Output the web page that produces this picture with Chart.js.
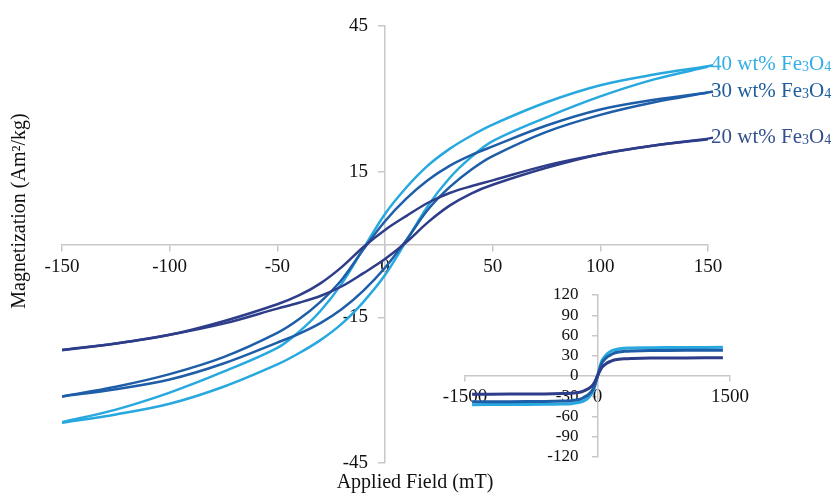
<!DOCTYPE html>
<html>
<head>
<meta charset="utf-8">
<script src="https://cdn.jsdelivr.net/npm/chart.js@4"></script>
<style>
  html, body { margin:0; padding:0; background:#fff; }
  #wrap { position:relative; width:832px; height:493px; overflow:hidden; }
  #main { position:absolute; left:0; top:0; }
  #inset { position:absolute; left:420px; top:280px; }
</style>
</head>
<body>
<div id="wrap">
  <canvas id="main" width="832" height="493"></canvas>
  <canvas id="inset" width="350" height="200"></canvas>
</div>
<script>
// applied field (mT), main plot
const field = [-150, -125, -100, -75, -50, -40, -30, -20, -10, 0, 10, 20, 30, 40, 50, 75, 100, 125, 150];

// magnetization (Am2/kg), descending branch (upper) and ascending branch (lower)
const m20Upper = [-21.7, -20.4, -18.6, -15.8, -12.3, -10.5, -8.0, -4.6, -0.5, 3.0, 5.9, 8.6, 10.6, 12.0, 13.2, 16.3, 18.6, 20.4, 21.8];
const m20Lower = [-21.8, -20.4, -18.6, -16.3, -13.2, -12.0, -10.6, -8.6, -5.9, -3.0, 0.5, 4.6, 8.0, 10.5, 12.3, 15.8, 18.6, 20.4, 21.7];
const m30Upper = [-31.3, -29.3, -26.7, -23.2, -18.2, -15.4, -11.8, -7.2, -1.0, 4.8, 9.5, 13.3, 16.2, 18.4, 20.2, 24.5, 27.8, 29.8, 31.3];
const m30Lower = [-31.3, -29.8, -27.8, -24.5, -20.2, -18.4, -16.2, -13.3, -9.5, -4.8, 1.0, 7.2, 11.8, 15.4, 18.2, 23.2, 26.7, 29.3, 31.3];
const m40Upper = [-36.6, -34.0, -30.5, -26.2, -21.3, -18.0, -13.7, -8.0, -0.8, 6.3, 11.8, 16.3, 19.7, 22.4, 24.7, 29.3, 32.8, 35.0, 36.7];
const m40Lower = [-36.7, -35.0, -32.8, -29.3, -24.7, -22.4, -19.7, -16.3, -11.8, -6.3, 0.8, 8.0, 13.7, 18.0, 21.3, 26.2, 30.5, 34.0, 36.6];

// inset: wide field range
const insetField = [-1420, -1000, -600, -400, -300, -200, -150, -100, -50, 0, 50, 100, 150, 200, 300, 400, 600, 1000, 1420];
const inset20 = [-27.0, -26.8, -26.5, -26.0, -25.5, -24.0, -21.8, -18.6, -12.7, 0, 12.7, 18.6, 21.8, 24.0, 25.5, 26.0, 26.5, 26.8, 27.0];
const inset30 = [-38.2, -38.0, -37.7, -37.2, -36.5, -34.5, -31.3, -27.2, -19.3, 0, 19.3, 27.2, 31.3, 34.5, 36.5, 37.2, 37.7, 38.0, 38.2];
const inset40 = [-42.5, -42.3, -42.0, -41.5, -41.0, -39.0, -36.7, -31.7, -22.8, 0, 22.8, 31.7, 36.7, 39.0, 41.0, 41.5, 42.0, 42.3, 42.5];

const labels = ['20 wt% Fe', '30 wt% Fe', '40 wt% Fe'];
const colors = ['#2e3d8a', '#1e5ea8', '#27a8df'];
const labelColors = ['#34508f', '#1f5d9c', '#33afe3'];

const axisGrey = '#c8c8c8';
const serif = '"Liberation Serif", "Times New Roman", serif';
Chart.defaults.font.family = serif;
Chart.defaults.color = '#111';

function pts(xs, ys) {
  return xs.map((x, i) => ({x: x, y: ys[i]}));
}

function branch(xs, ys, color, w) {
  return {
    data: pts(xs, ys),
    showLine: true,
    borderColor: color,
    borderWidth: w,
    pointRadius: 0,
    tension: 0.35,
    fill: false
  };
}

const mainSets = [
  branch(field, m20Upper, colors[0], 2.5),
  branch(field, m20Lower, colors[0], 2.5),
  branch(field, m30Upper, colors[1], 2.5),
  branch(field, m30Lower, colors[1], 2.5),
  branch(field, m40Upper, colors[2], 2.5),
  branch(field, m40Lower, colors[2], 2.5)
];

const plain = v => String(v);

// y tick labels sit left of the centred axis with a gap
function yLabels(gap, size) {
  return {
    id: 'yLabels',
    beforeDatasetsDraw(chart) {
      const ctx = chart.ctx;
      const ys = chart.scales.y;
      const ax = chart.scales.x.getPixelForValue(0);
      ctx.save();
      ctx.fillStyle = '#111';
      ctx.font = size + 'px ' + serif;
      ctx.textAlign = 'right';
      ctx.textBaseline = 'middle';
      ys.ticks.forEach(t => {
        ctx.fillText(String(t.value), ax - gap, ys.getPixelForValue(t.value));
      });
      ctx.restore();
    }
  };
}

// axis titles and end labels
const textPlugin = {
  id: 'textPlugin',
  afterDatasetsDraw(chart) {
    const ctx = chart.ctx;
    const xs = chart.scales.x, ys = chart.scales.y;
    ctx.save();
    ctx.fillStyle = '#111';
    ctx.font = '20px ' + serif;
    ctx.textAlign = 'center';
    ctx.textBaseline = 'middle';
    ctx.fillText('Applied Field (mT)', 415, 483);
    ctx.save();
    ctx.translate(20, 211);
    ctx.rotate(-Math.PI / 2);
    ctx.fillText('Magnetization (Am\u00b2/kg)', 0, 0);
    ctx.restore();

    const ends = [m20Upper, m30Upper, m40Upper];
    ctx.textAlign = 'left';
    ctx.textBaseline = 'alphabetic';
    ends.forEach((arr, i) => {
      const px = xs.getPixelForValue(field[field.length - 1]);
      const py = ys.getPixelForValue(arr[arr.length - 1]);
      ctx.strokeStyle = colors[i];
      ctx.lineWidth = 2.5;
      ctx.beginPath();
      ctx.moveTo(px, py);
      ctx.lineTo(px + 5, py - 1);
      ctx.stroke();
      let x = px + 3;
      const base = py + 4;
      ctx.fillStyle = labelColors[i];
      ctx.font = '21px ' + serif;
      ctx.fillText(labels[i], x, base);
      x += ctx.measureText(labels[i]).width;
      ctx.font = '14px ' + serif;
      ctx.fillText('3', x, base + 1);
      x += ctx.measureText('3').width;
      ctx.font = '21px ' + serif;
      ctx.fillText('O', x, base);
      x += ctx.measureText('O').width;
      ctx.font = '14px ' + serif;
      ctx.fillText('4', x, base + 1);
    });
    ctx.restore();
  }
};

new Chart(document.getElementById('main'), {
  type: 'scatter',
  data: {datasets: mainSets},
  options: {
    responsive: false,
    animation: false,
    layout: {padding: {left: 62, right: 124, top: 26, bottom: 30}},
    plugins: {legend: {display: false}, tooltip: {enabled: false}},
    scales: {
      x: {
        type: 'linear', min: -150, max: 150,
        position: {y: 0},
        ticks: {stepSize: 50, font: {size: 19}, padding: 5, callback: plain},
        grid: {drawOnChartArea: false, tickLength: 6, color: axisGrey, lineWidth: 1.5},
        border: {color: axisGrey, width: 1.5}
      },
      y: {
        type: 'linear', min: -45, max: 45,
        position: {x: 0},
        ticks: {stepSize: 30, display: false},
        grid: {drawOnChartArea: false, tickLength: 6, color: axisGrey, lineWidth: 1.5},
        border: {color: axisGrey, width: 1.5}
      }
    }
  },
  plugins: [yLabels(17, 19), textPlugin]
});

new Chart(document.getElementById('inset'), {
  type: 'scatter',
  data: {
    datasets: [
      branch(insetField, inset20, colors[0], 3),
      branch(insetField, inset30, colors[1], 3),
      branch(insetField, inset40, colors[2], 3)
    ]
  },
  options: {
    responsive: false,
    animation: false,
    layout: {padding: {left: 45, right: 40, top: 15, bottom: 23}},
    plugins: {legend: {display: false}, tooltip: {enabled: false}},
    scales: {
      x: {
        type: 'linear', min: -1500, max: 1500,
        position: {y: 0},
        ticks: {stepSize: 1500, font: {size: 19}, padding: 5, callback: plain},
        grid: {drawOnChartArea: false, tickLength: 5, color: axisGrey, lineWidth: 1.5},
        border: {color: axisGrey, width: 1.5}
      },
      y: {
        type: 'linear', min: -120, max: 120,
        position: {x: 0},
        ticks: {stepSize: 30, display: false},
        grid: {drawOnChartArea: false, tickLength: 5, color: axisGrey, lineWidth: 1.5},
        border: {color: axisGrey, width: 1.5}
      }
    }
  },
  plugins: [yLabels(19, 17)]
});
</script>
</body>
</html>
